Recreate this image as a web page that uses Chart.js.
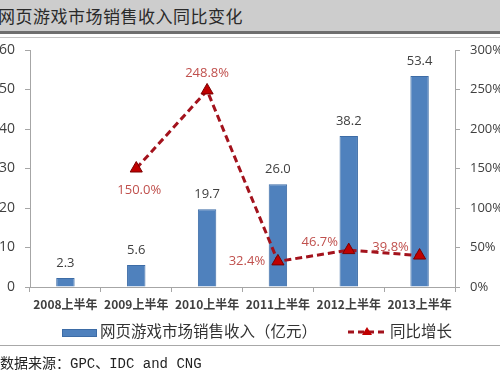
<!DOCTYPE html>
<html>
<head>
<meta charset="utf-8">
<script src="https://cdn.jsdelivr.net/npm/chart.js@4"></script>
<style>
  body { margin: 0; background: #fff; }
  #wrap { position: relative; width: 500px; height: 375px; overflow: hidden; }
  #chart { position: absolute; left: 0; top: 0; }
  #title {
    position: absolute; left: 0; top: 0; width: 500px; height: 31px;
    background: #cdcdcd; border-bottom: 3px solid #6e6e6e;
    font: 17px "Noto Sans CJK SC"; color: #2a2a2a; line-height: 31px;
    text-indent: -2px; letter-spacing: 0.5px; white-space: nowrap;
  }
  #line2 { position: absolute; left: 0; top: 37px; width: 500px; height: 1px; background: #c4c4c4; }
  #sep { position: absolute; left: 0; top: 345px; width: 500px; height: 1px; background: #a8a8a8; }
  #source {
    position: absolute; left: 0; top: 352px;
    font: 14px "Liberation Mono", "Noto Sans CJK SC"; color: #222; white-space: pre;
  }
</style>
</head>
<body>
<div id="wrap">
  <canvas id="chart" width="500" height="375"></canvas>
  <div id="title">网页游戏市场销售收入同比变化</div>
  <div id="line2"></div>
  <div id="sep"></div>
  <div id="source">数据来源：GPC、IDC and CNG</div>
</div>
<script>
'use strict'

const categories = ['2008上半年', '2009上半年', '2010上半年', '2011上半年', '2012上半年', '2013上半年'];
const revenue = [2.3, 5.6, 19.7, 26.0, 38.2, 53.4];
const growth = [null, 150.0, 248.8, 32.4, 46.7, 39.8];
const leftTicks = [0, 10, 20, 30, 40, 50, 60];
const rightTicks = [0, 50, 100, 150, 200, 250, 300];
const barName = '网页游戏市场销售收入（亿元）';
const lineName = '同比增长';

// where each percent label sits relative to its point
const growthLabelPlace = [null, 'below', 'above', 'left', 'aboveLeft', 'aboveLeft'];

const barColor = '#4f81bd';
const barBorder = '#3d6ca6';
const lineColor = '#a3121c';
const markColor = '#c00000';
const axisColor = '#a6a6a6';

const labelsPlugin = {
  id: 'labels',
  afterDatasetsDraw(chart) {
    const c = chart.ctx;
    c.save();
    c.textAlign = 'center';
    c.textBaseline = 'middle';
    c.font = '13px "Open Sans"';
    c.fillStyle = '#404040';
    chart.getDatasetMeta(0).data.forEach((bar, i) => {
      c.fillText(revenue[i].toFixed(1), bar.x, bar.y - 15);
    });
    c.fillStyle = '#c0504d';
    chart.getDatasetMeta(1).data.forEach((pt, i) => {
      if (growth[i] === null) return;
      const txt = growth[i].toFixed(1) + '%';
      const place = growthLabelPlace[i];
      if (place === 'below') c.fillText(txt, pt.x + 3, pt.y + 22);
      else if (place === 'above') c.fillText(txt, pt.x, pt.y - 17);
      else if (place === 'left') c.fillText(txt, pt.x - 31, pt.y);
      else c.fillText(txt, pt.x - 29, pt.y - 8);
    });

    // legend
    c.fillStyle = barColor;
    c.strokeStyle = barBorder;
    c.lineWidth = 1;
    c.fillRect(62, 329, 35, 8);
    c.strokeRect(62.5, 329.5, 34, 7);
    c.fillStyle = '#333';
    c.textAlign = 'left';
    c.font = '15.5px "Noto Sans CJK SC"';
    c.fillText(barName, 100, 331);

    c.strokeStyle = lineColor;
    c.lineWidth = 3;
    c.setLineDash([6, 4]);
    c.beginPath();
    c.moveTo(348, 332);
    c.lineTo(386, 332);
    c.stroke();
    c.setLineDash([]);
    c.fillStyle = markColor;
    c.beginPath();
    c.moveTo(367, 327);
    c.lineTo(372, 335);
    c.lineTo(362, 335);
    c.closePath();
    c.fill();
    c.fillStyle = '#333';
    c.fillText(lineName, 390, 331);
    c.restore();
  }
};

new Chart(document.getElementById('chart'), {
  type: 'bar',
  data: {
    labels: categories,
    datasets: [{
      label: barName,
      data: revenue,
      backgroundColor: barColor,
      borderColor: barBorder,
      borderWidth: 1,
      barPercentage: 0.26,
      categoryPercentage: 1,
      yAxisID: 'y',
      order: 2
    }, {
      type: 'line',
      label: lineName,
      data: growth,
      borderColor: lineColor,
      borderWidth: 3,
      borderDash: [7, 4],
      pointStyle: 'triangle',
      pointRadius: 7,
      pointBackgroundColor: markColor,
      pointBorderColor: '#7a0000',
      pointBorderWidth: 1,
      spanGaps: false,
      yAxisID: 'y1',
      order: 1
    }]
  },
  options: {
    responsive: false,
    animation: false,
    layout: { padding: { left: 0, right: 0, top: 50, bottom: 58 } },
    plugins: { legend: { display: false }, tooltip: { enabled: false } },
    scales: {
      x: {
        afterFit: s => { s.height = 30; },
        grid: { drawOnChartArea: false, tickLength: 5, color: axisColor },
        border: { color: axisColor },
        ticks: { padding: 5, color: '#404040', font: { size: 12, weight: 'bold', family: '"Noto Sans CJK SC"' } }
      },
      y: {
        position: 'left',
        min: 0, max: 60,
        afterFit: s => { s.width = 30; },
        afterBuildTicks: s => { s.ticks = leftTicks.map(v => ({ value: v })); },
        grid: { drawOnChartArea: false, tickLength: 5, color: axisColor },
        border: { color: axisColor },
        ticks: { padding: 10, color: '#404040', font: { size: 14, family: '"Open Sans"' } }
      },
      y1: {
        position: 'right',
        min: 0, max: 300,
        afterFit: s => { s.width = 45; },
        afterBuildTicks: s => { s.ticks = rightTicks.map(v => ({ value: v })); },
        grid: { drawOnChartArea: false, tickLength: 5, color: axisColor },
        border: { color: axisColor },
        ticks: { padding: 10, color: '#404040', font: { size: 13, family: '"Open Sans"' }, callback: v => v + '%' }
      }
    }
  },
  plugins: [labelsPlugin]
});
</script>
</body>
</html>
